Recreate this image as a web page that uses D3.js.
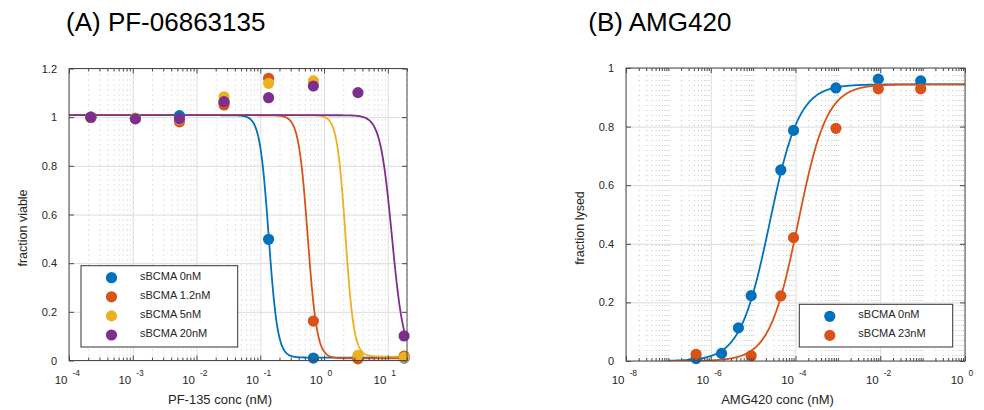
<!DOCTYPE html>
<html>
<head>
<meta charset="utf-8">
<script src="https://cdn.jsdelivr.net/npm/d3@7"></script>
<style>
  body { margin: 0; background: #fff; }
  svg { display: block; }
  text { font-family: "Liberation Sans", Arial, Helvetica, sans-serif; fill: #262626; }
</style>
</head>
<body>
<svg id="fig" width="984" height="410"></svg>
<script>
// ---------- (A) PF-06863135: viability vs concentration ----------
const seriesA = ["sBCMA 0nM", "sBCMA 1.2nM", "sBCMA 5nM", "sBCMA 20nM"];
const concA = [0.00022, 0.0011, 0.0054, 0.027, 0.135, 0.68, 3.4, 18];
const viable0 = [1.000, 0.995, 1.006, 1.060, 0.498, 0.010, 0.010, 0.010];
const viable1p2 = [0.998, 0.995, 0.981, 1.050, 1.160, 0.162, 0.007, 0.018];
const viable5 = [1.000, 0.995, 0.990, 1.084, 1.139, 1.149, 0.021, 0.013];
const viable20 = [1.000, 0.993, 0.993, 1.064, 1.080, 1.128, 1.101, 0.101];
// four-parameter logistic fits (inhibition)
const ic50A = [0.1355, 0.555, 2.17, 11.6];
const hillA = [6.2, 6.0, 6.5, 4.7];
const topA = [1.008, 1.008, 1.008, 1.008];
const bottomA = [0.012, 0.009, 0.016, 0.012];
const yTicksA = [0, 0.2, 0.4, 0.6, 0.8, 1, 1.2];
const xExpA = [-4, -3, -2, -1, 0, 1];

// ---------- (B) AMG420: lysis vs concentration ----------
const seriesB = ["sBCMA 0nM", "sBCMA 23nM"];
const concB0 = [4.5e-7, 1.8e-6, 4.5e-6, 9e-6, 4.5e-5, 9e-5, 9e-4, 9e-3, 9e-2];
const lysed0 = [0.008, 0.026, 0.113, 0.223, 0.652, 0.787, 0.932, 0.962, 0.956];
const concB23 = [4.5e-7, 9e-6, 4.5e-5, 9e-5, 9e-4, 9e-3, 9e-2];
const lysed23 = [0.023, 0.018, 0.222, 0.421, 0.794, 0.929, 0.929];
// four-parameter logistic fits (activation)
const ec50B = [2.46e-5, 1.15e-4];
const hillB = [1.25, 1.28];
const topB = [0.944, 0.944];
const yTicksB = [0, 0.2, 0.4, 0.6, 0.8, 1];
const xExpB = [-8, -6, -4, -2, 0];

const colors = ["#0072BD", "#D95319", "#EDB120", "#7E2F8E"];

const svg = d3.select("#fig");
svg.append("rect").attr("width", 984).attr("height", 410).attr("fill", "#fff");

// every 2..9 x 10^n inside the domain, plus unlabeled decades
function minorValues(x, labeledExp) {
  const [a, b] = x.domain();
  const out = [];
  for (let e = Math.floor(Math.log10(a)); e <= Math.ceil(Math.log10(b)); e++) {
    for (let k = 1; k <= 9; k++) {
      const v = k * Math.pow(10, e);
      if (k === 1 && labeledExp.includes(e)) continue;
      if (v >= a * 0.999 && v <= b * 1.001) out.push(v);
    }
  }
  return out;
}

function drawPanel(p) {
  const { x, y, id } = p;
  const [x0, x1] = x.range();
  const [yb, yt] = y.range();
  const W = x1 - x0, H = yb - yt;
  const majors = p.xExp.map(e => Math.pow(10, e));
  const minors = minorValues(x, p.xExp);
  const g = svg.append("g");

  const clean = s => s.select(".domain").remove();

  // minor (dotted) vertical grid
  g.append("g").attr("transform", `translate(0,${yb})`)
    .call(d3.axisBottom(x).tickValues(minors).tickSize(-H).tickFormat(""))
    .call(clean)
    .call(s => s.selectAll("line").attr("stroke", "#c6c6c6").attr("stroke-dasharray", "1,4"));
  // major vertical grid
  g.append("g").attr("transform", `translate(0,${yb})`)
    .call(d3.axisBottom(x).tickValues(majors).tickSize(-H).tickFormat(""))
    .call(clean)
    .call(s => s.selectAll("line").attr("stroke", "#dcdcdc"));
  // horizontal grid
  g.append("g").attr("transform", `translate(${x0},0)`)
    .call(d3.axisLeft(y).tickValues(p.yTicks).tickSize(-W).tickFormat(""))
    .call(clean)
    .call(s => s.selectAll("line").attr("stroke", "#dcdcdc"));

  // fitted curves
  g.append("clipPath").attr("id", id).append("rect")
    .attr("x", x0).attr("y", yt).attr("width", W).attr("height", H);
  const line = d3.line().x(d => x(d[0])).y(d => y(d[1]));
  const [c0, c1] = p.curveRange;
  const lo = Math.log10(c0), hi = Math.log10(c1);
  const grid = d3.range(0, 801).map(i => Math.pow(10, lo + (hi - lo) * i / 800));
  p.fits.forEach((f, i) => {
    g.append("path")
      .attr("clip-path", `url(#${id})`)
      .attr("d", line(grid.map(c => [c, f(c)])))
      .attr("fill", "none").attr("stroke", colors[i]).attr("stroke-width", 1.8);
  });

  // measured points
  p.points.forEach((s, i) => {
    g.append("g").selectAll("circle").data(d3.zip(s.conc, s.val)).join("circle")
      .attr("cx", d => x(d[0])).attr("cy", d => y(d[1])).attr("r", 5.6)
      .attr("fill", colors[i]);
  });

  // axes box
  g.append("rect").attr("x", x0).attr("y", yt).attr("width", W).attr("height", H)
    .attr("fill", "none").attr("stroke", "#4a4a4a").attr("stroke-width", 1);

  const tickStyle = s => s.selectAll("line").attr("stroke", "#4a4a4a");
  // inward ticks on all four sides
  g.append("g").attr("transform", `translate(0,${yb})`)
    .call(d3.axisBottom(x).tickValues(majors).tickSize(-5).tickFormat("")).call(clean).call(tickStyle);
  g.append("g").attr("transform", `translate(0,${yb})`)
    .call(d3.axisBottom(x).tickValues(minors).tickSize(-3).tickFormat("")).call(clean).call(tickStyle);
  g.append("g").attr("transform", `translate(0,${yt})`)
    .call(d3.axisTop(x).tickValues(majors).tickSize(-5).tickFormat("")).call(clean).call(tickStyle);
  g.append("g").attr("transform", `translate(0,${yt})`)
    .call(d3.axisTop(x).tickValues(minors).tickSize(-3).tickFormat("")).call(clean).call(tickStyle);
  g.append("g").attr("transform", `translate(${x0},0)`)
    .call(d3.axisLeft(y).tickValues(p.yTicks).tickSize(-5).tickFormat("")).call(clean).call(tickStyle);
  g.append("g").attr("transform", `translate(${x1},0)`)
    .call(d3.axisRight(y).tickValues(p.yTicks).tickSize(-5).tickFormat("")).call(clean).call(tickStyle);

  // x tick labels: 10 with raised exponent
  const xl = g.append("g").attr("transform", `translate(0,${yb})`)
    .call(d3.axisBottom(x).tickValues(majors).tickSize(0).tickFormat(""))
    .call(clean);
  xl.selectAll(".tick").each(function (d) {
    const t = d3.select(this);
    t.append("text").attr("x", -2).attr("y", 23).attr("text-anchor", "end")
      .attr("font-size", 11.5).text("10");
    t.append("text").attr("x", 3).attr("y", 15).attr("text-anchor", "start")
      .attr("font-size", 8.5).text(String(Math.round(Math.log10(d))));
  });

  // y tick labels
  g.append("g").attr("transform", `translate(${x0},0)`)
    .call(d3.axisLeft(y).tickValues(p.yTicks).tickSize(0).tickPadding(12).tickFormat(d3.format("~g")))
    .call(clean)
    .call(s => s.selectAll("text").attr("font-size", 11).attr("fill", "#262626")
      .attr("font-family", "Liberation Sans, Arial, sans-serif"));

  // axis titles
  g.append("text").attr("x", (x0 + x1) / 2 - 18).attr("y", 404)
    .attr("text-anchor", "middle").attr("font-size", 13).text(p.xLabel);
  g.append("text").attr("transform", `translate(${x0 - 42.5},${(yb + yt) / 2 + 13.5}) rotate(-90)`)
    .attr("text-anchor", "middle").attr("font-size", 12.5).text(p.yLabel);

  // panel title
  g.append("text").attr("x", p.title.x).attr("y", 30.7).attr("font-size", 26)
    .style("fill", "#000").text(p.title.text);

  // legend
  const L = p.legend;
  const lg = g.append("g");
  lg.append("rect").attr("x", L.x).attr("y", L.y).attr("width", L.w).attr("height", L.h)
    .attr("fill", "#fff").attr("stroke", "#333").attr("stroke-width", 1);
  p.names.forEach((name, i) => {
    const cy = L.y + 12 + i * 19.1;
    lg.append("circle").attr("cx", L.x + 30.5).attr("cy", cy).attr("r", 5.6).attr("fill", colors[i]);
    lg.append("text").attr("x", L.x + 59).attr("y", cy + 1.8).attr("font-size", 11).text(name);
  });
}

// logistic models
const inhib = (ic50, h, top, bot) => c => bot + (top - bot) / (1 + Math.pow(c / ic50, h));
const activ = (ec50, h, top) => c => top / (1 + Math.pow(ec50 / c, h));

const valsA = [viable0, viable1p2, viable5, viable20];
drawPanel({
  id: "clipA",
  x: d3.scaleLog().domain([1e-4, 20]).range([69, 407]),
  y: d3.scaleLinear().domain([0, 1.2]).range([360.5, 68.5]),
  yTicks: yTicksA,
  xExp: xExpA,
  curveRange: [1e-4, 20],
  fits: seriesA.map((_, i) => inhib(ic50A[i], hillA[i], topA[i], bottomA[i])),
  points: valsA.map(v => ({ conc: concA, val: v })),
  names: seriesA,
  xLabel: "PF-135 conc (nM)",
  yLabel: "fraction viable",
  title: { x: 66, text: "(A) PF-06863135" },
  legend: { x: 81, y: 265.7, w: 156.7, h: 81.3 }
});

drawPanel({
  id: "clipB",
  x: d3.scaleLog().domain([1e-8, 1]).range([626, 965]),
  y: d3.scaleLinear().domain([0, 1]).range([361, 68]),
  yTicks: yTicksB,
  xExp: xExpB,
  curveRange: [1e-7, 1],
  fits: seriesB.map((_, i) => activ(ec50B[i], hillB[i], topB[i])),
  points: [{ conc: concB0, val: lysed0 }, { conc: concB23, val: lysed23 }],
  names: seriesB,
  xLabel: "AMG420 conc (nM)",
  yLabel: "fraction lysed",
  title: { x: 588.3, text: "(B) AMG420" },
  legend: { x: 799.3, y: 304.3, w: 153.4, h: 42.7 }
});
</script>
</body>
</html>
